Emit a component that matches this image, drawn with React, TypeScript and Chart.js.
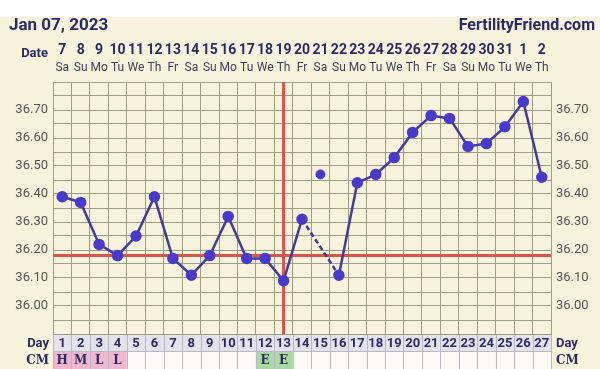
import React, { useEffect, useRef } from "react";
import { Chart, registerables } from "chart.js";

Chart.register(...registerables);

const cycleDays = ["1","2","3","4","5","6","7","8","9","10","11","12","13","14","15","16","17","18","19","20","21","22","23","24","25","26","27"];
const dateNumbers = ["7","8","9","10","11","12","13","14","15","16","17","18","19","20","21","22","23","24","25","26","27","28","29","30","31","1","2"];
const weekdays = ["Sa","Su","Mo","Tu","We","Th","Fr","Sa","Su","Mo","Tu","We","Th","Fr","Sa","Su","Mo","Tu","We","Th","Fr","Sa","Su","Mo","Tu","We","Th"];
const temps: (number | null)[] = [36.39, 36.37, 36.22, 36.18, 36.25, 36.39, 36.17, 36.11, 36.18, 36.32, 36.17, 36.17, 36.09, 36.31, null, 36.11, 36.44, 36.47, 36.53, 36.62, 36.68, 36.67, 36.57, 36.58, 36.64, 36.73, 36.46];
const discardedTemps: (number | null)[] = [null, null, null, null, null, null, null, null, null, null, null, null, null, null, 36.47, null, null, null, null, null, null, null, null, null, null, null, null];
const cmValues = ["H","M","L","L","","","","","","","","E","E","","","","","","","","","","","","","",""];
const coverline = 36.18;
const ovulationDay = "13";
const titleText = "Jan 07, 2023";
const brandText = "FertilityFriend.com";

const NAVY = "#2c2a63";
const CREAM = "#f7f3dc";
const GRID = "#9f9d86";

export default function App() {
  const ref = useRef<HTMLCanvasElement>(null);
  useEffect(() => {
    const canvas = ref.current!;
    const decor = {
      id: "decor",
      beforeDraw(chart: any) {
        const { ctx, width, height } = chart;
        ctx.save();
        ctx.fillStyle = "#ffffff";
        ctx.fillRect(0, 0, width, height);
        ctx.fillStyle = CREAM;
        ctx.fillRect(0, 17, width, height - 17);
        ctx.restore();
      },
      beforeDatasetsDraw(chart: any) {
        const { ctx, chartArea, scales } = chart;
        const x = scales.x, y = scales.y;
        ctx.save();
        ctx.strokeStyle = "#d9564c";
        ctx.lineWidth = 3;
        const yc = y.getPixelForValue(coverline);
        ctx.beginPath();
        ctx.moveTo(chartArea.left, yc);
        ctx.lineTo(chartArea.right, yc);
        ctx.stroke();
        const xo = x.getPixelForValue(cycleDays.indexOf(ovulationDay));
        ctx.beginPath();
        ctx.moveTo(xo, chartArea.top);
        ctx.lineTo(xo, chartArea.bottom);
        ctx.stroke();
        ctx.restore();
      },
      afterDraw(chart: any) {
        const { ctx, chartArea, scales } = chart;
        const x = scales.x;
        const colW = (chartArea.right - chartArea.left) / cycleDays.length;
        ctx.save();
        ctx.textBaseline = "middle";
        ctx.fillStyle = NAVY;
        ctx.font = "bold 17px Roboto";
        ctx.textAlign = "left";
        ctx.fillText(titleText, 9, 26);
        ctx.font = "bold 16px Roboto";
        ctx.textAlign = "right";
        ctx.fillText(brandText, 595, 26);
        ctx.font = "bold 13px Roboto";
        ctx.textAlign = "right";
        ctx.fillText("Date", 48, 54);
        for (let i = 0; i < cycleDays.length; i++) {
          const cx = x.getPixelForValue(i);
          ctx.fillStyle = NAVY;
          ctx.font = "bold 14px Roboto";
          ctx.textAlign = "center";
          ctx.fillText(dateNumbers[i], cx, 50);
          ctx.fillStyle = "#3f3f55";
          ctx.font = "12px Roboto";
          ctx.fillText(weekdays[i], cx, 68);
        }
        const dayTop = chartArea.bottom + 1;
        const dayH = 16;
        const cmTop = dayTop + dayH;
        const cmH = 369 - cmTop;
        ctx.fillStyle = "#e4e2ec";
        ctx.fillRect(chartArea.left, dayTop, chartArea.right - chartArea.left, dayH);
        for (let i = 0; i < cycleDays.length; i++) {
          const left = chartArea.left + i * colW;
          const v = cmValues[i];
          ctx.fillStyle = v === "E" ? "#a7d9a0" : v ? "#f1b7cf" : "#faf9f4";
          ctx.fillRect(left, cmTop, colW, cmH);
        }
        ctx.strokeStyle = "#b9b7c4";
        ctx.lineWidth = 1;
        for (let i = 0; i <= cycleDays.length; i++) {
          const lx = Math.round(chartArea.left + i * colW) + 0.5;
          ctx.beginPath();
          ctx.moveTo(lx, dayTop);
          ctx.lineTo(lx, 369);
          ctx.stroke();
        }
        ctx.beginPath();
        ctx.moveTo(chartArea.left, cmTop + 0.5);
        ctx.lineTo(chartArea.right, cmTop + 0.5);
        ctx.stroke();
        ctx.textAlign = "center";
        for (let i = 0; i < cycleDays.length; i++) {
          const cx = x.getPixelForValue(i);
          ctx.fillStyle = NAVY;
          ctx.font = "bold 13px Roboto";
          ctx.fillText(cycleDays[i], cx, dayTop + dayH / 2 + 1);
          if (cmValues[i]) {
            ctx.font = "bold 12px 'DejaVu Serif'";
            ctx.fillText(cmValues[i], cx, cmTop + cmH / 2 + 1);
          }
        }
        ctx.fillStyle = NAVY;
        ctx.font = "bold 13px Roboto";
        ctx.textAlign = "right";
        ctx.fillText("Day", 49, dayTop + dayH / 2 + 1);
        ctx.font = "bold 12px 'DejaVu Serif'";
        ctx.fillText("CM", 49, cmTop + cmH / 2 + 1);
        ctx.textAlign = "left";
        ctx.font = "bold 13px Roboto";
        ctx.fillText("Day", 556, dayTop + dayH / 2 + 1);
        ctx.font = "bold 12px 'DejaVu Serif'";
        ctx.fillText("CM", 556, cmTop + cmH / 2 + 1);
        ctx.restore();
      },
    };

    const tickCb = (v: any) => {
      const c = Math.round(Number(v) * 100);
      if (c % 10 !== 0 || c < 3600 || c > 3670) return "";
      return (c / 100).toFixed(2);
    };

    const chart = new Chart(canvas, {
      type: "line",
      data: {
        labels: cycleDays,
        datasets: [
          {
            data: temps,
            borderColor: "#433a9c",
            backgroundColor: "#4a3acb",
            pointBackgroundColor: "#4a3acb",
            pointBorderColor: "#4a3acb",
            borderWidth: 2.5,
            pointRadius: 4.5,
            spanGaps: true,
            tension: 0,
            segment: {
              borderDash: (c: any) => (temps[c.p0DataIndex] === null || c.p1DataIndex - c.p0DataIndex > 1 ? [5, 3] : undefined),
            },
          } as any,
          {
            data: discardedTemps,
            showLine: false,
            pointBackgroundColor: "#4a3acb",
            pointBorderColor: "#4a3acb",
            pointRadius: 4.5,
          },
        ],
      },
      options: {
        responsive: false,
        animation: false,
        events: [],
        layout: { padding: { top: 82, bottom: 35, left: 0, right: 0 } },
        plugins: { legend: { display: false }, tooltip: { enabled: false } },
        scales: {
          x: {
            type: "category",
            offset: true,
            grid: { offset: true, color: GRID, drawTicks: false, lineWidth: 1 },
            border: { color: GRID },
            ticks: { display: false },
            afterFit: (s: any) => { s.height = 0; },
          },
          y: {
            position: "left",
            min: 35.9,
            max: 36.8,
            ticks: { stepSize: 0.05, callback: tickCb, color: "#555555", font: { size: 13, family: "Roboto" }, padding: 5, autoSkip: false },
            grid: { color: GRID, drawTicks: false },
            border: { color: GRID },
            afterFit: (s: any) => { s.width = 53; },
          },
          y2: {
            position: "right",
            min: 35.9,
            max: 36.8,
            ticks: { stepSize: 0.05, callback: tickCb, color: "#555555", font: { size: 13, family: "Roboto" }, padding: 5, autoSkip: false },
            grid: { display: false, drawTicks: false },
            border: { color: GRID },
            afterFit: (s: any) => { s.width = 49; },
          },
        },
      },
      plugins: [decor],
    });
    return () => chart.destroy();
  }, []);
  return (
    <div style={{ position: "fixed", left: 0, top: 0, width: 600, height: 369 }}>
      <canvas ref={ref} width={600} height={369} style={{ display: "block" }} />
    </div>
  );
}
